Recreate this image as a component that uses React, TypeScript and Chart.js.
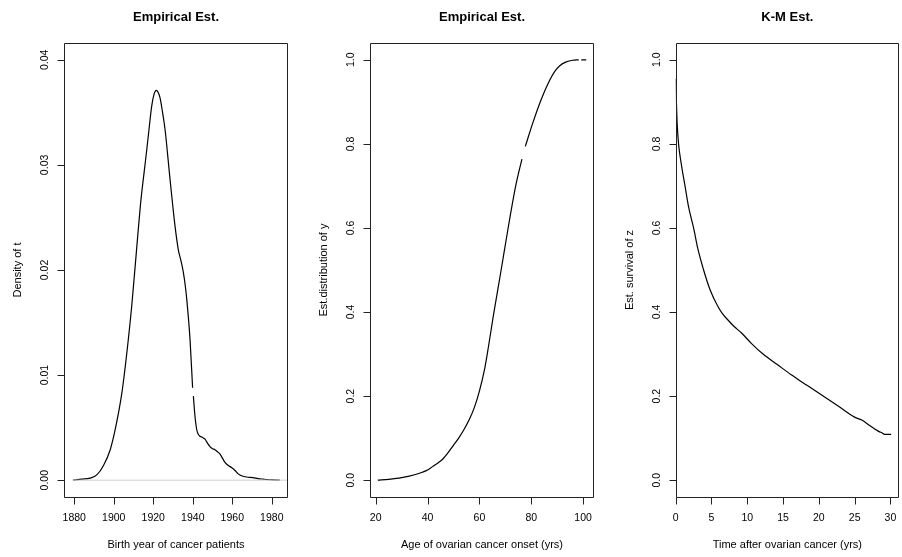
import React, { useEffect, useRef } from "react";
import { Chart, registerables } from "chart.js";

Chart.register(...registerables);

// ---------- Panel 1: density of birth year ----------
const birthYear = [
  1879.3, 1884, 1888, 1891.4, 1894.8, 1898.2, 1900.7, 1904.1, 1906.6, 1909.1,
  1911.7, 1913.5, 1914.6, 1916.0, 1917.5, 1919.2, 1920.5, 1921.5, 1922.5, 1923.4,
  1924.7, 1926.0, 1928.5, 1931.0, 1932.7, 1934.0, 1935.2, 1936.2, 1936.9, 1938.6,
  1939.9, 1940.1, 1940.3, 1941.0, 1942.0, 1943.0, 1944.5, 1946.2, 1947.5, 1948.7,
  1950.0, 1951.2, 1952.5, 1953.7, 1955.0, 1956.3, 1958.0, 1959.6, 1961.5, 1963.0,
  1965.0, 1967.2, 1970.5, 1973.0, 1975.6, 1980.0, 1984.0,
];
const birthDensity = [
  0, 0.0001, 0.0002, 0.0005, 0.0014, 0.0029, 0.0048, 0.0083, 0.0121, 0.0166,
  0.0223, 0.0262, 0.0281, 0.0303, 0.0328, 0.0356, 0.0368, 0.0371, 0.0369, 0.0364,
  0.035, 0.0333, 0.0286, 0.0242, 0.0219, 0.0209, 0.0198, 0.0185, 0.0173, 0.0134,
  0.0088, null, 0.008, 0.0063, 0.0048, 0.0043, 0.0041, 0.0039, 0.0035, 0.0032,
  0.003, 0.0029, 0.0027, 0.0025, 0.0021, 0.0017, 0.0014, 0.0012, 0.0009, 0.0006,
  0.0004, 0.0003, 0.00025, 0.00015, 0.0001, 0.00003, 0,
];
const zeroLineX = [1879.3, 1988.2];
const zeroLineY = [0, 0];
const birthTicksX = [1880, 1900, 1920, 1940, 1960, 1980];
const densityTicksY = [0, 0.01, 0.02, 0.03, 0.04];
const densityTickLabels = ["0.00", "0.01", "0.02", "0.03", "0.04"];

// ---------- Panel 2: empirical distribution of onset age ----------
const onsetAge = [
  20.8, 25, 30, 35, 38, 40.2, 43, 44, 46, 48, 50, 52, 54, 56, 58, 60, 62, 63.5,
  65.4, 68.3, 71, 74, 76.4, 77.0, 77.7, 80.6, 83.8, 87, 89, 91, 93.5, 96, 98.3,
  98.8, 99.3, 101.2,
];
const onsetCdf = [
  0, 0.002, 0.006, 0.013, 0.019, 0.025, 0.037, 0.041, 0.051, 0.066, 0.083, 0.1,
  0.12, 0.143, 0.172, 0.212, 0.264, 0.318, 0.392, 0.497, 0.597, 0.7, 0.764, null,
  0.794, 0.85, 0.905, 0.95, 0.972, 0.986, 0.995, 0.999, 1.0, null, 1.0, 1.0,
];
const onsetTicksX = [20, 40, 60, 80, 100];
const probTicksY = [0, 0.2, 0.4, 0.6, 0.8, 1.0];
const probTickLabels = ["0.0", "0.2", "0.4", "0.6", "0.8", "1.0"];

// ---------- Panel 3: K-M survival ----------
const survTime = [
  0, 0.1, 0.2, 0.4, 0.8, 1.3, 1.8, 2.5, 3.1, 3.9, 4.8, 5.9, 6.5, 7.3, 8.2, 9.2,
  10.6, 12.2, 14.2, 16.2, 18.4, 20.6, 22.8, 25.0, 26.0, 27.1, 27.8, 28.5, 28.8,
  29.2, 30.1,
];
const survProb = [
  0.955, 0.9, 0.85, 0.8, 0.75, 0.7, 0.65, 0.6, 0.55, 0.5, 0.453, 0.413, 0.397,
  0.381, 0.365, 0.35, 0.325, 0.3, 0.275, 0.25, 0.225, 0.2, 0.175, 0.15, 0.143,
  0.13, 0.122, 0.115, 0.113, 0.109, 0.109,
];
const survTicksX = [0, 5, 10, 15, 20, 25, 30];

const FONT = '"Liberation Sans", Arial, Helvetica, sans-serif';

type PanelCfg = {
  left: number;
  width: number;
  pad: { left: number; right: number; top: number; bottom: number };
  xMin: number;
  xMax: number;
  yMin: number;
  yMax: number;
  xTicks: number[];
  yTicks: number[];
  yTickLabels: string[];
  title: string;
  xTitle: string;
  yTitle: string;
  datasets: any[];
};

const toPoints = (xs: number[], ys: (number | null)[]) =>
  xs.map((x, i) => ({ x, y: ys[i] }));

const curveStyle = {
  borderColor: "#000",
  borderWidth: 1.2,
  cubicInterpolationMode: "monotone",
};

const panels: PanelCfg[] = [
  {
    left: 0,
    width: 300,
    pad: { left: 64, right: 12, top: 43, bottom: 60 },
    xMin: 1874.8,
    xMax: 1988.2,
    yMin: -0.0016,
    yMax: 0.0416,
    xTicks: birthTicksX,
    yTicks: densityTicksY,
    yTickLabels: densityTickLabels,
    title: "Empirical Est.",
    xTitle: "Birth year of cancer patients",
    yTitle: "Density of t",
    datasets: [
      {
        data: toPoints(zeroLineX, zeroLineY),
        borderColor: "#d2d2d2",
        borderWidth: 1,
      },
      { data: toPoints(birthYear, birthDensity), ...curveStyle },
    ],
  },
  {
    left: 300,
    width: 300,
    pad: { left: 70, right: 6, top: 43, bottom: 60 },
    xMin: 17.8,
    xMax: 104.2,
    yMin: -0.04,
    yMax: 1.04,
    xTicks: onsetTicksX,
    yTicks: probTicksY,
    yTickLabels: probTickLabels,
    title: "Empirical Est.",
    xTitle: "Age of ovarian cancer onset (yrs)",
    yTitle: "Est.distribution of y",
    datasets: [{ data: toPoints(onsetAge, onsetCdf), ...curveStyle }],
  },
  {
    left: 600,
    width: 302,
    pad: { left: 75.7, right: 3, top: 43, bottom: 60 },
    xMin: 0,
    xMax: 31.2,
    yMin: -0.04,
    yMax: 1.04,
    xTicks: survTicksX,
    yTicks: probTicksY,
    yTickLabels: probTickLabels,
    title: "K-M Est.",
    xTitle: "Time after ovarian cancer (yrs)",
    yTitle: "Est. survival of z",
    datasets: [{ data: toPoints(survTime, survProb), ...curveStyle }],
  },
];

function makeAxesPlugin(cfg: PanelCfg) {
  return {
    id: "rAxes",
    afterDraw(chart: any) {
      const ctx: CanvasRenderingContext2D = chart.ctx;
      const { left, right, top, bottom } = chart.chartArea;
      const xs = chart.scales.x;
      const ys = chart.scales.y;
      ctx.save();
      ctx.strokeStyle = "#222";
      ctx.lineWidth = 1;
      const L = Math.round(left) + 0.5;
      const R = Math.round(right) - 0.5;
      const T = Math.round(top) + 0.5;
      const B = Math.round(bottom) + 0.5;
      ctx.beginPath();
      ctx.rect(L, T, R - L, B - T);
      for (const v of cfg.xTicks) {
        const px = Math.round(xs.getPixelForValue(v)) + 0.5;
        ctx.moveTo(px, B);
        ctx.lineTo(px, B + 7);
      }
      for (const v of cfg.yTicks) {
        const py = Math.round(ys.getPixelForValue(v)) + 0.5;
        ctx.moveTo(L, py);
        ctx.lineTo(L - 7, py);
      }
      ctx.stroke();

      ctx.fillStyle = "#000";
      ctx.textAlign = "center";
      ctx.textBaseline = "alphabetic";
      ctx.font = `10.5px ${FONT}`;
      for (const v of cfg.xTicks) {
        ctx.fillText(String(v), xs.getPixelForValue(v), bottom + 24);
      }
      cfg.yTicks.forEach((v, i) => {
        const py = ys.getPixelForValue(v);
        ctx.save();
        ctx.translate(left - 16, py);
        ctx.rotate(-Math.PI / 2);
        ctx.fillText(cfg.yTickLabels[i], 0, 0);
        ctx.restore();
      });

      ctx.font = `11px ${FONT}`;
      const cx = (left + right) / 2;
      const cy = (top + bottom) / 2;
      ctx.fillText(cfg.xTitle, cx, bottom + 50.5);
      ctx.save();
      ctx.translate(left - 43, cy);
      ctx.rotate(-Math.PI / 2);
      ctx.fillText(cfg.yTitle, 0, 0);
      ctx.restore();

      ctx.font = `bold 13px ${FONT}`;
      ctx.fillText(cfg.title, cx, 21);
      ctx.restore();
    },
  };
}

function Panel({ cfg }: { cfg: PanelCfg }) {
  const ref = useRef<HTMLCanvasElement | null>(null);
  useEffect(() => {
    if (!ref.current) return;
    const chart = new Chart(ref.current, {
      type: "line",
      data: { datasets: cfg.datasets },
      options: {
        animation: false,
        responsive: false,
        maintainAspectRatio: false,
        devicePixelRatio: 1,
        layout: { padding: cfg.pad },
        plugins: {
          legend: { display: false },
          tooltip: { enabled: false },
          title: { display: false },
        },
        elements: {
          point: { radius: 0, hoverRadius: 0 },
          line: { fill: false },
        },
        events: [],
        scales: {
          x: { type: "linear", min: cfg.xMin, max: cfg.xMax, display: false },
          y: { type: "linear", min: cfg.yMin, max: cfg.yMax, display: false },
        },
      } as any,
      plugins: [makeAxesPlugin(cfg)],
    });
    return () => chart.destroy();
  }, [cfg]);
  return (
    <canvas
      ref={ref}
      width={cfg.width}
      height={557}
      style={{
        position: "absolute",
        left: cfg.left,
        top: 0,
        width: cfg.width,
        height: 557,
      }}
    />
  );
}

export default function App() {
  return (
    <div
      style={{
        position: "absolute",
        left: 0,
        top: 0,
        width: 902,
        height: 557,
        background: "#fff",
        overflow: "hidden",
      }}
    >
      {panels.map((p, i) => (
        <Panel key={i} cfg={p} />
      ))}
    </div>
  );
}
